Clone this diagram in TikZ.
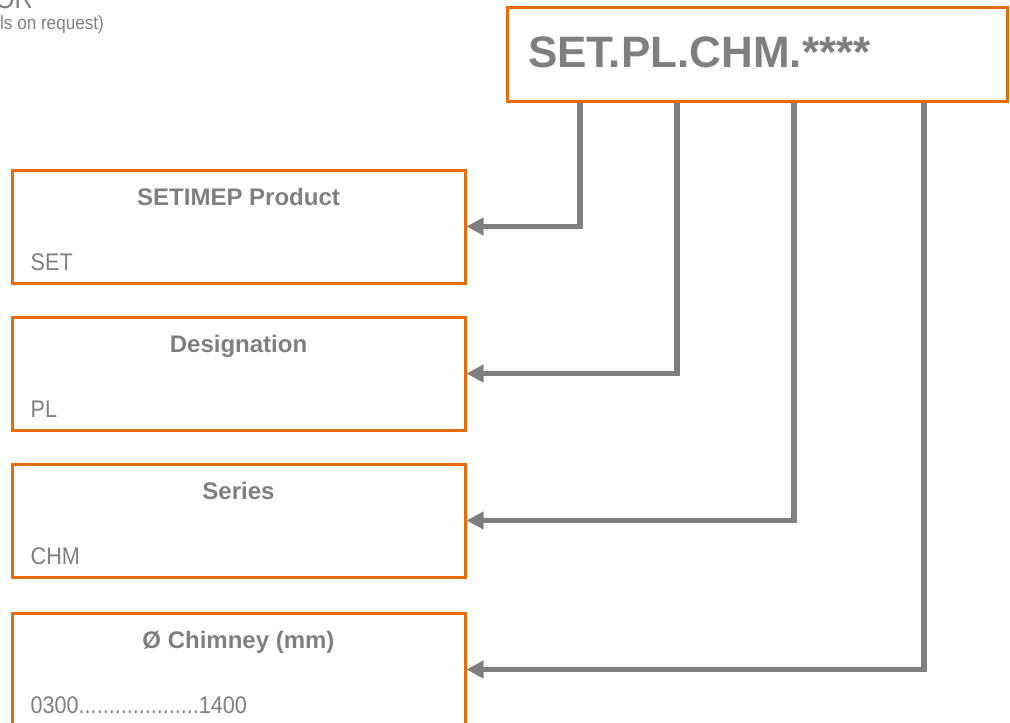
\documentclass[tikz,border=0pt]{standalone}
\usepackage{fontspec}
\setmainfont{Liberation Sans}
\newfontfamily\narrowsf[FakeStretch=0.9]{Liberation Sans}
\usepackage{tikz}
\usetikzlibrary{positioning,arrows.meta}

\definecolor{setorange}{RGB}{228,108,10}
\definecolor{setgray}{RGB}{127,127,127}

\newcommand\chimneyrange{0300....................1400}

\tikzset{
  codebox/.style={draw=setorange, line width=3pt, minimum width=453pt, minimum height=113pt, inner sep=0pt},
  fieldtitle/.style={text=setgray, font=\bfseries\fontsize{24}{28}\selectfont, inner sep=0pt, anchor=base},
  fieldvalue/.style={text=setgray, font=\narrowsf\fontsize{24}{28}\selectfont, inner sep=0pt, anchor=base west},
  link/.style={draw=setgray, line width=5.5pt, -{Triangle[length=17pt,width=17pt]}},
}

\begin{document}
\begin{tikzpicture}[x=1pt,y=-1pt]
    \useasboundingbox (0,0) rectangle (1010,723);
    \clip (0,0) rectangle (1010,723);

    % header, cut by the page edge
    \node[text=setgray, font=\narrowsf\fontsize{28}{30}\selectfont, inner sep=0pt, anchor=base east] (hdr) at (33,8) {OR};
    \node[fieldvalue, font=\narrowsf\fontsize{19}{22}\selectfont] (note) at (0,29) {ls on request)};

    % product code
    \node[draw=setorange, line width=3pt, minimum width=500pt, minimum height=94pt] (code) at (757,54) {};
    \node[text=setgray, font=\bfseries\fontsize{44}{50}\selectfont, inner sep=0pt, anchor=base west] (codetxt) at (528,67) {SET.PL.CHM.****};

    % fields
    \foreach \n/\ttl/\val/\yc/\xk in {1/SETIMEP Product/SET/226.5/580,
                                      2/Designation/PL/373.5/677,
                                      3/Series/CHM/520.5/794,
                                      4/Ø Chimney (mm)/\chimneyrange/669.5/924} {
      \node[codebox] (f\n) at (238.5,\yc) {};
      \node[below=37pt of f\n.north, fieldtitle] (t\n) {\ttl};
      \node[above=14pt of f\n.south west, xshift=20pt, fieldvalue] (v\n) {\val};
      \coordinate (k\n) at (\xk,102.5);
      \draw[link] (k\n) |- (f\n.east);
    }
\end{tikzpicture}
\end{document}
